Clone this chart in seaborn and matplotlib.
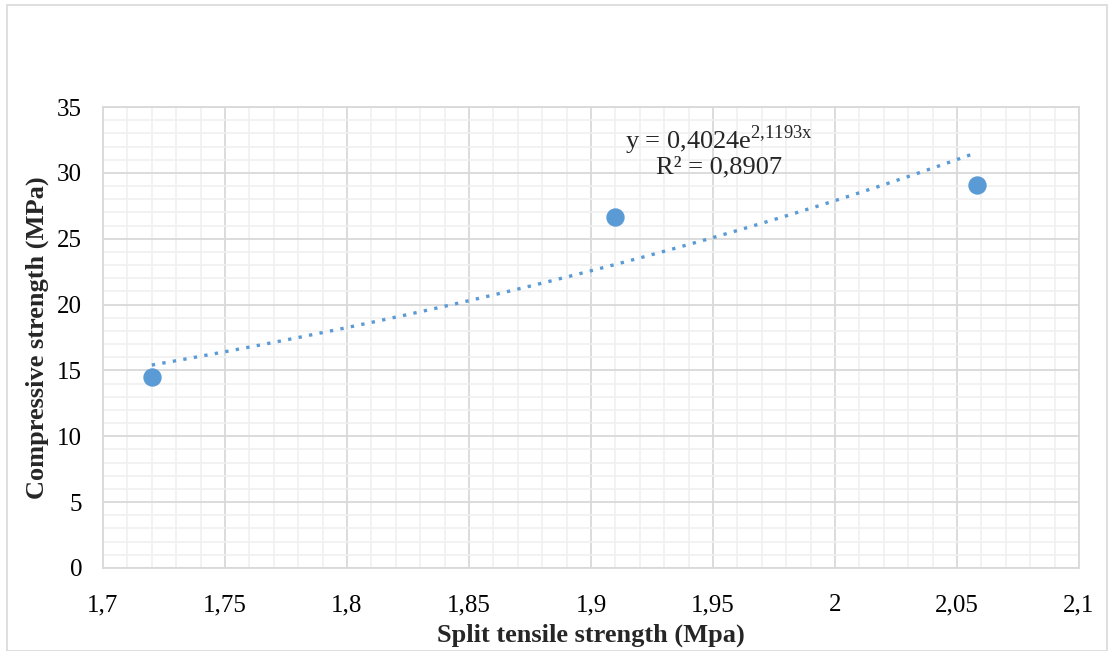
import numpy as np
import pandas as pd
import matplotlib
matplotlib.use("Agg")
import matplotlib.pyplot as plt
import seaborn as sns
from matplotlib.patches import Rectangle

# Data
split_tensile = [1.72, 1.91, 2.058]
compressive = [14.5, 26.65, 29.05]
trend_a = 0.4024
trend_b = 2.1193
x_ticks = [1.7, 1.75, 1.8, 1.85, 1.9, 1.95, 2.0, 2.05, 2.1]
x_tick_labels = ["1,7", "1,75", "1,8", "1,85", "1,9", "1,95", "2", "2,05", "2,1"]
y_ticks = [0, 5, 10, 15, 20, 25, 30, 35]
y_tick_labels = ["0", "5", "10", "15", "20", "25", "30", "35"]

sns.set_theme(style="white")
plt.rcParams['font.family'] = ['Liberation Serif', 'DejaVu Serif']
plt.rcParams['mathtext.fontset'] = 'custom'
plt.rcParams['mathtext.rm'] = 'Liberation Serif'

fig = plt.figure(figsize=(11.13, 6.51), dpi=100)
ax = fig.add_axes([103/1113, 1-568/651, (1079-103)/1113, (568-107)/651])

df = pd.DataFrame({"x": split_tensile, "y": compressive})
color = "#5B9BD5"

xt = np.linspace(min(split_tensile), max(split_tensile), 200)
ax.plot(xt, trend_a*np.exp(trend_b*xt), linestyle=(0, (1, 2.2)), color=color, lw=2.4, zorder=3)
sns.scatterplot(data=df, x="x", y="y", ax=ax, s=150, color=color, edgecolor=color, zorder=4)

ax.set_xlim(1.7, 2.1)
ax.set_ylim(0, 35)
ax.set_xticks(x_ticks)
ax.set_xticklabels(x_tick_labels)
ax.set_yticks(y_ticks)
ax.set_yticklabels(y_tick_labels)
ax.set_xticks(np.arange(1.7, 2.1001, 0.01), minor=True)
ax.set_yticks(np.arange(0, 35.01, 1), minor=True)
ax.grid(which="major", color="#D9D9D9", lw=1.3, zorder=0)
ax.grid(which="minor", color="#F0F0F0", lw=1.2, zorder=0)
ax.set_axisbelow(True)
ax.tick_params(which="both", length=0, labelsize=18, colors="black")
ax.tick_params(axis="x", pad=19)
ax.tick_params(axis="y", pad=15)
for s in ax.spines.values():
    s.set_color("#D9D9D9")
    s.set_linewidth(1.3)

ax.set_xlabel("Split tensile strength (Mpa)", fontsize=19, fontweight="bold", labelpad=5)
ax.set_ylabel("Compressive strength (MPa)", fontsize=19, fontweight="bold", labelpad=6)

ax.text(1.9525, 32.5, "y = 0,4024e$^{\\mathregular{2{,}1193x}}$", fontsize=19, ha="center", va="center")
ax.text(1.9525, 30.4, "R² = 0,8907", fontsize=19, ha="center", va="center")

fig.patches.append(Rectangle((7/1113, 0), 1100/1113, 1-5/651, transform=fig.transFigure,
                             fill=False, edgecolor="#D9D9D9", lw=1.2))

fig.savefig("out.png", dpi=100)
